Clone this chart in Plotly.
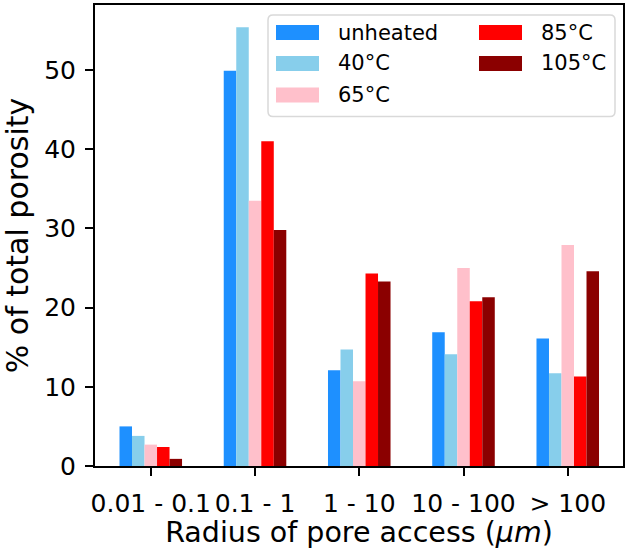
import plotly.graph_objects as go

# Pore access radius classes (µm)
categories = ["0.01 - 0.1", "0.1 - 1", "1 - 10", "10 - 100", "> 100"]

# Share of total porosity (%) per treatment
unheated = [5.0, 49.9, 12.1, 16.9, 16.1]
t40 = [3.8, 55.4, 14.7, 14.1, 11.7]
t65 = [2.7, 33.5, 10.7, 25.0, 27.9]
t85 = [2.4, 41.0, 24.3, 20.8, 11.3]
t105 = [0.9, 29.8, 23.3, 21.3, 24.6]

series_names = ["unheated", "40°C", "65°C", "85°C", "105°C"]
series_values = [unheated, t40, t65, t85, t105]
series_colors = ["#1E90FF", "#87CEEB", "#FFC0CB", "#FF0000", "#8B0000"]

y_ticks = [0, 10, 20, 30, 40, 50]

FONT = "DejaVu Sans"
W, H = 625, 549
L, R, T, B = 95, 2, 5, 83
PW, PH = W - L - R, H - T - B

fig = go.Figure()
for name, vals, col in zip(series_names, series_values, series_colors):
    fig.add_trace(go.Bar(
        x=categories, y=vals, name=name,
        marker=dict(color=col, line=dict(width=0)),
        showlegend=False,
    ))


def px_x(p):
    return (p - L) / PW


def px_y(p):
    return (H - B - p) / PH


# Two-column legend box (drawn as shapes + text)
shapes = []
annotations = []
box = dict(x0=268, x1=615, y0=15, y1=116.5)
r = 5
x0, x1 = px_x(box["x0"]), px_x(box["x1"])
y0, y1 = px_y(box["y1"]), px_y(box["y0"])
rx, ry = r / PW, r / PH
path = (f"M{x0+rx},{y0} L{x1-rx},{y0} Q{x1},{y0} {x1},{y0+ry} "
        f"L{x1},{y1-ry} Q{x1},{y1} {x1-rx},{y1} L{x0+rx},{y1} "
        f"Q{x0},{y1} {x0},{y1-ry} L{x0},{y0+ry} Q{x0},{y0} {x0+rx},{y0} Z")
shapes.append(dict(type="path", path=path, xref="paper", yref="paper",
                   line=dict(color="#d9d9d9", width=1.5),
                   fillcolor="rgba(255,255,255,0.85)", layer="above"))

cols = [(276, 319, 336), (479, 522, 539)]
rows = [32.5, 63.5, 95.0]
slots = [(0, 0), (0, 1), (0, 2), (1, 0), (1, 1)]
for (ci, ri), name, col in zip(slots, series_names, series_colors):
    px0, px1, tx = cols[ci]
    cy = rows[ri]
    shapes.append(dict(type="rect", xref="paper", yref="paper",
                       x0=px_x(px0), x1=px_x(px1),
                       y0=px_y(cy + 7.5), y1=px_y(cy - 7.5),
                       fillcolor=col, line=dict(width=0), layer="above"))
    annotations.append(dict(text=name, xref="paper", yref="paper",
                            x=px_x(tx), y=px_y(cy), xanchor="left",
                            yanchor="middle", showarrow=False,
                            font=dict(family=FONT, size=21, color="black")))

fig.update_layout(
    width=W, height=H,
    margin=dict(l=L, r=R, t=T, b=B, autoexpand=False),
    paper_bgcolor="white", plot_bgcolor="white",
    barmode="group", bargap=0.4, bargroupgap=0,
    font=dict(family=FONT, color="black"),
    shapes=shapes, annotations=annotations,
)
fig.update_xaxes(
    range=[-0.535, 4.53], tickangle=0, automargin=False,
    showline=True, linecolor="black", linewidth=2, mirror=True,
    ticks="outside", ticklen=8, tickwidth=2, tickcolor="black",
    tickfont=dict(family=FONT, size=25), ticklabelstandoff=6,
    title=dict(text="Radius of pore access (<i>μm</i>)",
               font=dict(family=FONT, size=28.5), standoff=14),
    showgrid=False, zeroline=False,
)
fig.update_yaxes(
    range=[0, 58.2], tickvals=y_ticks, automargin=False,
    showline=True, linecolor="black", linewidth=2, mirror=True,
    ticks="outside", ticklen=8, tickwidth=2, tickcolor="black",
    tickfont=dict(family=FONT, size=25), ticklabelstandoff=4,
    title=dict(text="% of total porosity",
               font=dict(family=FONT, size=30), standoff=14),
    showgrid=False, zeroline=False,
)

fig.write_html("out.html")
